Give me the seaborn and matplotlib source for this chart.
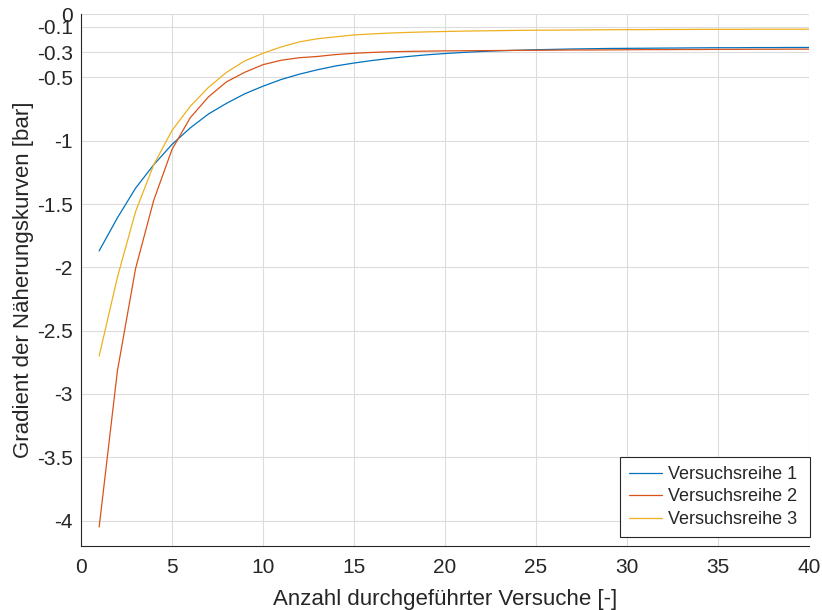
import numpy as np
import pandas as pd
import seaborn as sns
import matplotlib
matplotlib.use("Agg")
import matplotlib.pyplot as plt

# values
versuche = list(range(1, 41))
reihe_1 = [-1.87, -1.61, -1.375, -1.19, -1.03, -0.90, -0.79, -0.705, -0.63, -0.57,
           -0.517, -0.475, -0.44, -0.41, -0.387, -0.367, -0.35, -0.335, -0.322, -0.312,
           -0.303, -0.296, -0.29, -0.286, -0.282, -0.279, -0.276, -0.274, -0.272, -0.271,
           -0.27, -0.269, -0.268, -0.267, -0.266, -0.266, -0.265, -0.265, -0.264, -0.264]
reihe_2 = [-4.05, -2.82, -2.01, -1.47, -1.07, -0.82, -0.655, -0.535, -0.46, -0.40,
           -0.365, -0.345, -0.335, -0.32, -0.31, -0.303, -0.298, -0.295, -0.293, -0.291,
           -0.29, -0.289, -0.288, -0.287, -0.286, -0.285, -0.284, -0.284, -0.283, -0.282,
           -0.281, -0.281, -0.28, -0.28, -0.279, -0.279, -0.278, -0.278, -0.277, -0.277]
reihe_3 = [-2.70, -2.08, -1.56, -1.19, -0.92, -0.73, -0.58, -0.46, -0.37, -0.31,
           -0.26, -0.22, -0.195, -0.18, -0.165, -0.157, -0.15, -0.145, -0.141, -0.138,
           -0.135, -0.133, -0.131, -0.129, -0.128, -0.127, -0.126, -0.125, -0.124, -0.123,
           -0.123, -0.122, -0.122, -0.121, -0.121, -0.121, -0.12, -0.12, -0.12, -0.12]
namen = ["Versuchsreihe 1", "Versuchsreihe 2", "Versuchsreihe 3"]
y_ticks = [0, -0.1, -0.3, -0.5, -1, -1.5, -2, -2.5, -3, -3.5, -4]
y_ticklabels = ["0", "-0.1", "-0.3", "-0.5", "-1", "-1.5", "-2", "-2.5", "-3", "-3.5", "-4"]
x_ticks = [0, 5, 10, 15, 20, 25, 30, 35, 40]

df = pd.DataFrame({
    "x": versuche * 3,
    "y": reihe_1 + reihe_2 + reihe_3,
    "reihe": [n for n in namen for _ in versuche],
})

sns.set_style("white")
plt.rcParams["font.family"] = ["Liberation Sans", "DejaVu Sans"]

fig = plt.figure(figsize=(8.22, 6.10), dpi=100)
ax = fig.add_axes([0.0985, 0.105, 0.8855, 0.872])
sns.lineplot(data=df, x="x", y="y", hue="reihe", palette=["#0072BD", "#D95319", "#EDB120"],
             linewidth=0.9, ax=ax)

ax.set_xlim(0, 40)
ax.set_ylim(-4.2, 0)
ax.set_xticks(x_ticks)
ax.set_yticks(y_ticks)
ax.set_yticklabels(y_ticklabels)
ax.grid(True, color="#dcdcdc", linewidth=0.8)
ax.tick_params(direction="in", length=5, width=0.8, colors="#262626", labelsize=15)
ax.tick_params(axis="x", pad=9)
ax.tick_params(axis="y", pad=6)
for s in ["top", "right"]:
    ax.spines[s].set_visible(False)
for s in ["left", "bottom"]:
    ax.spines[s].set_color("#262626")
    ax.spines[s].set_linewidth(0.8)
ax.set_xlabel("Anzahl durchgeführter Versuche [-]", fontsize=16, color="#262626", labelpad=8)
ax.set_ylabel("Gradient der Näherungskurven [bar]", fontsize=16, color="#262626", labelpad=2)

# legend box stretched to the width seen in the reference
leg = ax.legend(loc="lower left", bbox_to_anchor=(0.7404, 0.017, 0.261, 0.2), mode="expand",
                fontsize=13, frameon=True, fancybox=False, edgecolor="#262626", framealpha=1,
                borderpad=0.5, handlelength=1.85, handletextpad=0.3, labelspacing=0.3,
                borderaxespad=0)
leg.get_frame().set_linewidth(0.8)

fig.savefig("out.png", dpi=100)
